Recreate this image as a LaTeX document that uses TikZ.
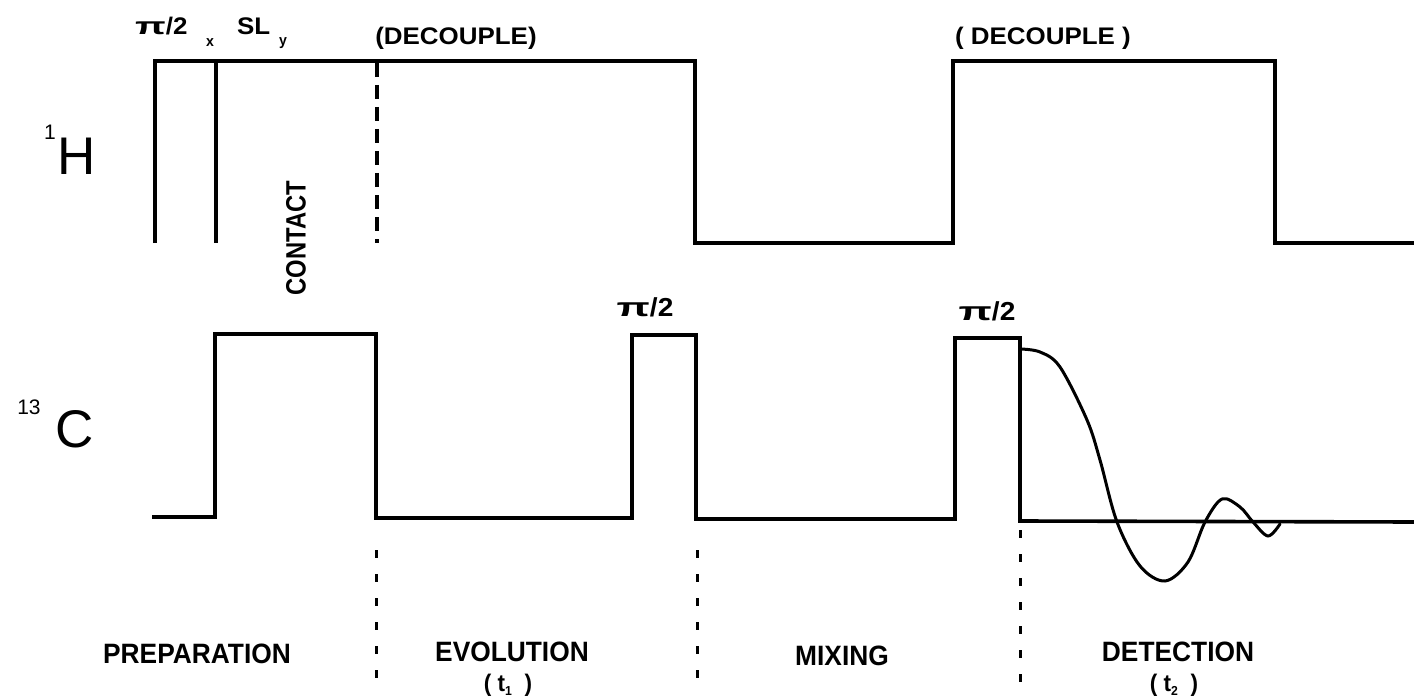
\documentclass[tikz,border=0pt]{standalone}
\usepackage{fontspec}
\newfontfamily\plotfont{Liberation Sans}[FakeStretch=0.94]
\newfontfamily\widefont{Liberation Sans}[FakeStretch=1.08]
\newfontfamily\condfont{Liberation Sans}[FakeStretch=0.85]
\newfontfamily\thinfont{Liberation Sans}
\newcommand{\wpi}{\scalebox{1.55}[1]{π}}
\newcommand{\tsub}[1]{t\raisebox{-4pt}{\fontsize{13}{13}\selectfont #1}}
\begin{document}
\begin{tikzpicture}[x=1pt,y=-1pt,
  trace/.style={line width=3.6pt, line join=miter, line cap=butt},
  fid/.style={line width=3pt, line cap=round},
  dashsep/.style={line width=3pt, dash pattern=on 8pt off 16pt},
  dashH/.style={line width=3.6pt, dash pattern=on 14pt off 8pt},
  lbl/.style={font=\plotfont\bfseries\fontsize{28}{30}\selectfont, inner sep=0pt},
  tlbl/.style={font=\plotfont\bfseries\fontsize{24}{26}\selectfont, inner sep=0pt},
  toplbl/.style={font=\widefont\bfseries\fontsize{24}{26}\selectfont, inner sep=0pt},
  pilbl/.style={font=\widefont\bfseries\fontsize{26}{28}\selectfont, inner sep=0pt},
  contactlbl/.style={font=\condfont\bfseries\fontsize{28}{30}\selectfont, inner sep=0pt},
  sub/.style={font=\plotfont\bfseries\fontsize{15}{16}\selectfont, inner sep=0pt},
  nuc/.style={font=\thinfont\fontsize{53}{55}\selectfont, inner sep=0pt},
  nucsup/.style={font=\thinfont\fontsize{21}{22}\selectfont, inner sep=0pt}]
\useasboundingbox (0,0) rectangle (1414,698);
% 1H trace
\draw[trace] (155,243) -- (155,61) -- (695,61) -- (695,243) -- (953,243) -- (953,61) -- (1275,61) -- (1275,243) -- (1414,243);
\draw[trace] (216,61) -- (216,243);
\draw[dashH] (377,63) -- (377,243);
% 13C trace
\draw[trace] (152,517) -- (215,517) -- (215,334) -- (376,334) -- (376,518) -- (632,518) -- (632,335) -- (696,335) -- (696,519) -- (955,519) -- (955,338) -- (1020,338) -- (1020,521) -- (1414,522);
% FID
\draw[fid] plot[smooth, tension=0.55] coordinates {(1020,349) (1040,352) (1060,367) (1087,420) (1100,460) (1117,522) (1140,566) (1165,581) (1188,562) (1205,522) (1222,499) (1240,507) (1253,522) (1268,536) (1280,524)};
% separators
\draw[dashsep] (376,550) -- (376,682);
\draw[dashsep] (697,550) -- (697,692);
\draw[dashsep] (1020,530) -- (1020,692);
% labels
\node[toplbl, anchor=west] (p90) at (135,26) {\wpi/2};
\node[sub] (px) at (210,43) {x};
\node[toplbl, anchor=west] (sl) at (237,26) {SL};
\node[sub] (sy) at (283,43) {y};
\node[toplbl] (dec1) at (456,38) {(DECOUPLE)};
\node[toplbl] (dec2) at (1043,38) {( DECOUPLE )};
\node[contactlbl, rotate=90] (contact) at (296,238) {CONTACT};
\node[pilbl] (c90a) at (645,307) {\wpi/2};
\node[pilbl] (c90b) at (987,311) {\wpi/2};
\node[nuc] (H) at (77,156) {H};
\node[nucsup] (Hs) at (50,132) {1};
\node[nuc] (C) at (75,429) {C};
\node[nucsup] (Cs) at (29,407) {13};
\node[lbl] (prep) at (197,654) {PREPARATION};
\node[lbl] (evo) at (512,652) {EVOLUTION};
\node[tlbl] (t1) at (508,685) {( \tsub{1} \ )};
\node[lbl] (mix) at (842,656) {MIXING};
\node[lbl] (det) at (1178,652) {DETECTION};
\node[tlbl] (t2) at (1174,685) {( \tsub{2} \ )};
\end{tikzpicture}
\end{document}
